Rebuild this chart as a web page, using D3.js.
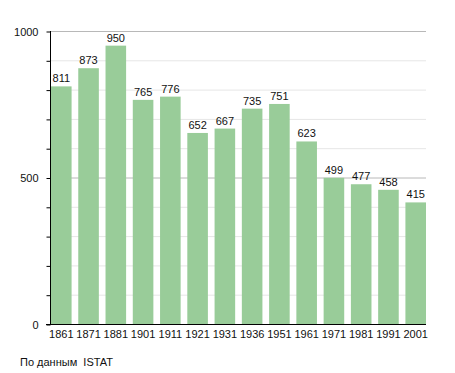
<!DOCTYPE html>
<html>
<head>
<meta charset="utf-8">
<script src="https://cdn.jsdelivr.net/npm/d3@7"></script>
<style>
  body { margin: 0; background: #fff; }
  svg { display: block; font-family: "Liberation Sans", Arial, sans-serif; }
</style>
</head>
<body>
<svg id="chart" width="455" height="373"></svg>
<script>
// census years and population
var years = ['1861', '1871', '1881', '1901', '1911', '1921', '1931', '1936', '1951', '1961', '1971', '1981', '1991', '2001']
var population = [811, 873, 950, 765, 776, 652, 667, 735, 751, 623, 499, 477, 458, 415]
var yTickLabels = [0, 500, 1000]
var minorTicks = [100, 200, 300, 400, 600, 700, 800, 900]

var svg = d3.select('#chart')

var x = d3.scaleBand()
  .domain(years)
  .range([51, 426])
  .paddingInner(0.245)
  .paddingOuter(0)

var y = d3.scaleLinear()
  .domain([0, 1000])
  .range([324, 31])

// grid lines
svg.append('g')
  .selectAll('line')
  .data(minorTicks)
  .enter()
  .append('line')
  .attr('x1', 50)
  .attr('x2', 426)
  .attr('y1', d => y(d) + 0.5)
  .attr('y2', d => y(d) + 0.5)
  .attr('stroke', '#e6e6e6')
  .attr('stroke-width', 1)

svg.append('g')
  .selectAll('line')
  .data([500, 1000])
  .enter()
  .append('line')
  .attr('x1', 50)
  .attr('x2', 426)
  .attr('y1', d => y(d) + 0.5)
  .attr('y2', d => y(d) + 0.5)
  .attr('stroke', '#b8b8b8')
  .attr('stroke-width', 1)

// bars
svg.append('g')
  .selectAll('rect')
  .data(population)
  .enter()
  .append('rect')
  .attr('x', (d, i) => x(years[i]))
  .attr('width', x.bandwidth())
  .attr('y', d => y(d))
  .attr('height', d => y(0) - y(d))
  .attr('fill', '#99cc99')

// value labels
svg.append('g')
  .selectAll('text')
  .data(population)
  .enter()
  .append('text')
  .attr('x', (d, i) => x(years[i]) + x.bandwidth() / 2)
  .attr('y', d => y(d) - 4)
  .attr('text-anchor', 'middle')
  .attr('font-size', '11px')
  .attr('fill', '#111')
  .text(d => d)

// y axis
var yAxis = d3.axisLeft(y)
  .tickValues(d3.range(0, 1001, 100))
  .tickSize(4)
  .tickFormat(d => yTickLabels.includes(d) ? d : '')

var yg = svg.append('g')
  .attr('transform', 'translate(50.5,0.5)')
  .call(yAxis)
yg.select('.domain').attr('stroke', '#000').attr('d', 'M0,' + (y(1000) - 0.5) + 'V' + y(0))
yg.selectAll('.tick line').attr('stroke', '#000')
yg.selectAll('.tick text')
  .attr('x', -12)
  .attr('font-size', '11px')
  .attr('font-family', '"Liberation Sans", Arial, sans-serif')
  .attr('fill', '#111')

// x axis
var xAxis = d3.axisBottom(x).tickSize(0).tickPadding(6)
var xg = svg.append('g')
  .attr('transform', 'translate(0,' + (y(0) + 0.5) + ')')
  .call(xAxis)
xg.select('.domain').attr('stroke', '#000').attr('d', 'M46,0H426')
xg.selectAll('.tick text')
  .attr('font-size', '11px')
  .attr('font-family', '"Liberation Sans", Arial, sans-serif')
  .attr('fill', '#111')

// source note
svg.append('text')
  .attr('x', 20)
  .attr('y', 366)
  .attr('font-size', '11px')
  .attr('fill', '#111')
  .attr('xml:space', 'preserve')
  .text('По данным  ISTAT')
</script>
</body>
</html>
